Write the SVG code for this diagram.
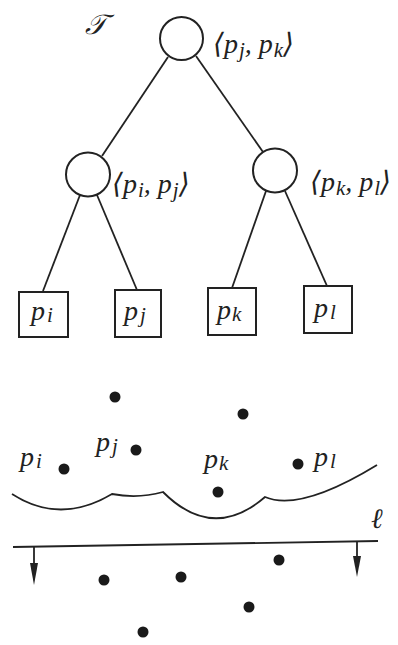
<svg xmlns="http://www.w3.org/2000/svg" width="398" height="645" viewBox="0 0 398 645">
<style>
.n{fill:#fff;stroke:#222;stroke-width:2}
.e{stroke:#222;stroke-width:1.8;fill:none}
.t{font-family:"Liberation Serif","DejaVu Serif",serif;font-style:italic;fill:#222;font-size:28px}
.s{font-size:21px}
.d{fill:#1a1a1a}
.a{fill:#222}
</style>
<rect width="398" height="645" fill="#fff"/>
<g id="connectors">
<line class="e" x1="168" y1="57" x2="102" y2="156"/>
<line class="e" x1="196" y1="56" x2="263" y2="152"/>
<line class="e" x1="80" y1="195" x2="43" y2="291"/>
<line class="e" x1="97" y1="195" x2="137" y2="290"/>
<line class="e" x1="266" y1="191" x2="232" y2="288"/>
<line class="e" x1="285" y1="191" x2="327" y2="286"/>
</g>
<text class="t" x="85" y="34" font-size="24">𝒯</text>
<g id="root">
<circle class="n" cx="181.5" cy="38.5" r="21.5"/>
<text class="t" x="213" y="53">⟨p<tspan class="s" dx="1" dy="4">j</tspan><tspan dy="-4">, p</tspan><tspan class="s" dx="1" dy="4">k</tspan><tspan dy="-4">⟩</tspan></text>
</g>
<g id="left">
<circle class="n" cx="88" cy="174.5" r="22"/>
<text class="t" x="112" y="193">⟨p<tspan class="s" dx="1" dy="4">i</tspan><tspan dy="-4">, p</tspan><tspan class="s" dx="1" dy="4">j</tspan><tspan dy="-4">⟩</tspan></text>
</g>
<g id="right">
<circle class="n" cx="275" cy="170.5" r="22"/>
<text class="t" x="310" y="191">⟨p<tspan class="s" dx="1" dy="4">k</tspan><tspan dy="-4">, p</tspan><tspan class="s" dx="1" dy="4">l</tspan><tspan dy="-4">⟩</tspan></text>
</g>
<g id="leaf-pi">
<rect class="n" x="19" y="292" width="49" height="45"/>
<text class="t" x="31" y="320">p<tspan class="s" dx="2" dy="2">i</tspan></text>
</g>
<g id="leaf-pj">
<rect class="n" x="115" y="290" width="46" height="47"/>
<text class="t" x="124" y="320">p<tspan class="s" dx="2" dy="2">j</tspan></text>
</g>
<g id="leaf-pk">
<rect class="n" x="208" y="288" width="48" height="47"/>
<text class="t" x="217" y="319">p<tspan class="s" dx="1" dy="2">k</tspan></text>
</g>
<g id="leaf-pl">
<rect class="n" x="304" y="286" width="48" height="47"/>
<text class="t" x="314" y="317">p<tspan class="s" dx="2" dy="2">l</tspan></text>
</g>
<g id="points">
<circle class="d" cx="115" cy="397" r="5.5"/>
<circle class="d" cx="243" cy="414" r="5.5"/>
<circle class="d" cx="136" cy="450" r="5.5"/>
<circle class="d" cx="64" cy="469" r="5.5"/>
<circle class="d" cx="298" cy="464" r="5.5"/>
<circle class="d" cx="218" cy="492" r="5.5"/>
<circle class="d" cx="104" cy="580" r="5.5"/>
<circle class="d" cx="181" cy="577" r="5.5"/>
<circle class="d" cx="279" cy="560" r="5.5"/>
<circle class="d" cx="249" cy="607" r="5.5"/>
<circle class="d" cx="143" cy="632" r="5.5"/>
</g>
<g id="labels">
<text class="t" x="20" y="466">p<tspan class="s" dx="2" dy="2">i</tspan></text>
<text class="t" x="96" y="451">p<tspan class="s" dx="2" dy="2">j</tspan></text>
<text class="t" x="204" y="468">p<tspan class="s" dx="1" dy="2">k</tspan></text>
<text class="t" x="314" y="466">p<tspan class="s" dx="2" dy="2">l</tspan></text>
<text class="t" x="371" y="528" font-size="22">ℓ</text>
</g>
<g id="beach">
<path class="e" stroke-width="2.4" d="M12,494 Q60,525 112,494 Q138,499 163,492 Q213,542 265,497 Q300,512 377,465"/>
</g>
<g id="sweep">
<line class="e" stroke-width="2.4" x1="13" y1="547" x2="378" y2="541"/>
<line class="e" x1="34" y1="547" x2="34" y2="565"/>
<polygon class="a" points="30,563 38,563 34,585"/>
<line class="e" x1="357" y1="541" x2="357" y2="558"/>
<polygon class="a" points="353,556 361,556 357,577"/>
</g>
</svg>
